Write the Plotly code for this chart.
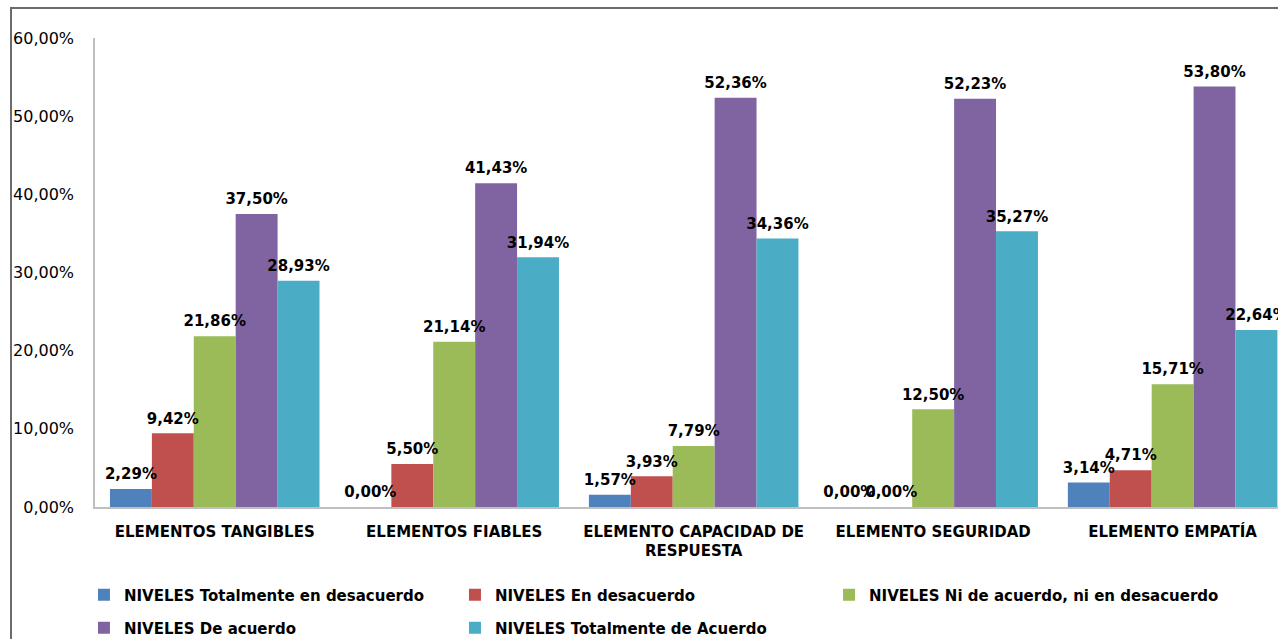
import plotly.graph_objects as go

categorias = [
    "ELEMENTOS TANGIBLES",
    "ELEMENTOS FIABLES",
    "ELEMENTO CAPACIDAD DE<br>RESPUESTA",
    "ELEMENTO SEGURIDAD",
    "ELEMENTO EMPATÍA",
]
niveles = [
    "NIVELES Totalmente en desacuerdo",
    "NIVELES En desacuerdo",
    "NIVELES Ni de acuerdo, ni en desacuerdo",
    "NIVELES De acuerdo",
    "NIVELES Totalmente de Acuerdo",
]
totalmente_desacuerdo = [2.29, 0.00, 1.57, 0.00, 3.14]
en_desacuerdo = [9.42, 5.50, 3.93, 0.00, 4.71]
ni_acuerdo_ni_desacuerdo = [21.86, 21.14, 7.79, 12.50, 15.71]
de_acuerdo = [37.50, 41.43, 52.36, 52.23, 53.80]
totalmente_acuerdo = [28.93, 31.94, 34.36, 35.27, 22.64]
y_ticks = [0, 10, 20, 30, 40, 50, 60]

series = [totalmente_desacuerdo, en_desacuerdo, ni_acuerdo_ni_desacuerdo,
          de_acuerdo, totalmente_acuerdo]
colores = ["#4F81BD", "#C0504D", "#9BBB59", "#8064A2", "#4BACC6"]

# legend grid: three columns, two rows (fractions of the whole figure)
leyenda_col = [0.0657, 0.356, 0.6487, 0.0657, 0.356]
leyenda_fila = [0.0689, 0.0689, 0.0689, 0.0172, 0.0172]


def pct(v):
    return f"{v:.2f}%".replace(".", ",")


FUENTE = "DejaVu Sans"
GAP = 0.125

fig = go.Figure()
for i, (nombre, valores, color) in enumerate(zip(niveles, series, colores)):
    fig.add_trace(go.Bar(
        x=categorias, y=valores, name=nombre,
        marker=dict(color=color, line=dict(width=0)),
        offsetgroup=str(i), alignmentgroup="g",
        legend="legend" if i == 0 else f"legend{i + 1}", hoverinfo="skip",
    ))
# value labels, placed over each bar via the grouped scatter layout
for i, valores in enumerate(series):
    fig.add_trace(go.Scatter(
        x=categorias, y=valores, mode="markers+text",
        text=[pct(v) for v in valores],
        textposition="top center",
        textfont=dict(family=FUENTE, size=15, color="#000000", weight="bold"),
        marker=dict(size=8, color="rgba(0,0,0,0)"),
        offsetgroup=str(i), alignmentgroup="g",
        showlegend=False, hoverinfo="skip", cliponaxis=False,
    ))

leyendas = {}
for i in range(len(niveles)):
    leyendas["legend" if i == 0 else f"legend{i + 1}"] = dict(
        orientation="h", xref="container", yref="container",
        x=leyenda_col[i], y=leyenda_fila[i],
        xanchor="left", yanchor="middle",
        font=dict(family=FUENTE, size=15, color="#000000", weight="bold"),
        bgcolor="rgba(0,0,0,0)",
    )

fig.update_layout(
    width=1278, height=639,
    margin=dict(l=95, r=0, t=38, b=132),
    paper_bgcolor="white", plot_bgcolor="white",
    barmode="group", bargap=GAP, bargroupgap=0,
    scattermode="group", scattergap=GAP,
    font=dict(family=FUENTE, size=16, color="#000000"),
    showlegend=True,
    xaxis=dict(
        range=[-0.5, 4.44], showline=True, linecolor="#BFBFBF", linewidth=1.5,
        ticks="", showgrid=False, ticklabelstandoff=10,
        tickfont=dict(family=FUENTE, size=15, color="#000000", weight="bold"),
    ),
    yaxis=dict(
        range=[0, 60], tickvals=y_ticks, ticktext=[pct(v) for v in y_ticks],
        showline=True, linecolor="#BFBFBF", linewidth=1.5,
        showgrid=False, zeroline=False, ticks="", ticklabelstandoff=16,
        tickfont=dict(family=FUENTE, size=16, color="#000000"),
    ),
    shapes=[dict(
        type="rect", xref="paper", yref="paper",
        x0=-0.071, x1=1.2, y0=-0.5, y1=1.064,
        line=dict(color="#6B6B6B", width=2), fillcolor="rgba(0,0,0,0)",
        layer="below",
    )],
    **leyendas,
)

fig.write_html("out.html")
